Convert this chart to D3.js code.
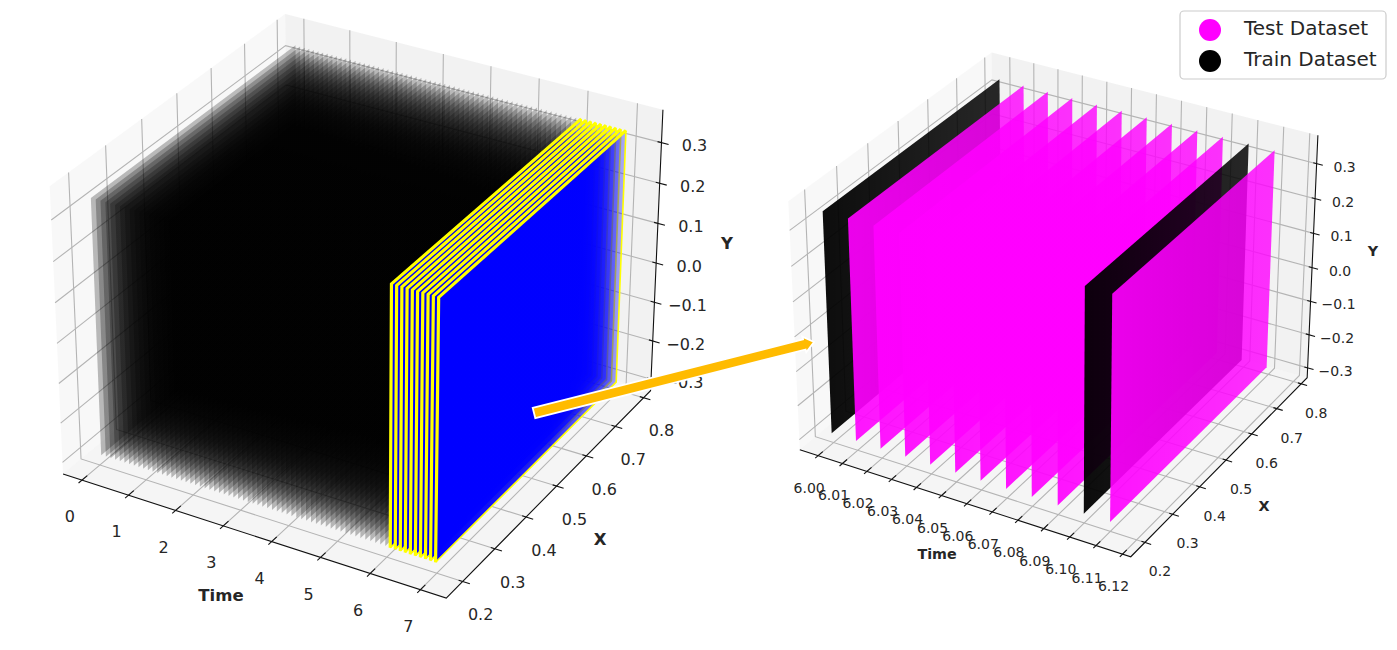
<!DOCTYPE html>
<html>
<head>
<meta charset="utf-8">
<script src="https://cdn.jsdelivr.net/npm/d3@7"></script>
<style>
html,body{margin:0;padding:0;background:#fff;}
svg{display:block;}
text{font-family:"DejaVu Sans",sans-serif;fill:#262626;}
</style>
</head>
<body>
<svg id="chart" width="1397" height="650"></svg>
<script>
// ---- data ----
const leftTimeTicks = [0,1,2,3,4,5,6,7];
const rightTimeTicks = [6.00,6.01,6.02,6.03,6.04,6.05,6.06,6.07,6.08,6.09,6.10,6.11,6.12];
const xTicks = [0.2,0.3,0.4,0.5,0.6,0.7,0.8];
const yTicks = [-0.3,-0.2,-0.1,0.0,0.1,0.2,0.3];
const leftTrainTimes = [0.2,0.3,0.4,0.5,0.6,0.7,0.8,0.9,1.0,1.1,1.2,1.3,1.4,1.5,1.6,1.7,1.8,1.9,2.0,2.1,2.2,2.3,2.4,2.5,2.6,2.7,2.8,2.9,3.0,3.1,3.2,3.3,3.4,3.5,3.6,3.7,3.8,3.9,4.0,4.1,4.2,4.3,4.4,4.5,4.6,4.7,4.8,4.9,5.0,5.1,5.2,5.3,5.4,5.5,5.6,5.7,5.8,5.9,6.0,6.1];
const leftTestTimes = [6.2,6.3,6.4,6.5,6.6,6.7,6.8,6.9,7.0,7.1];
const rightTrainTimes = [6.002,6.102];
const rightTestTimes = [6.012,6.022,6.032,6.042,6.052,6.062,6.072,6.082,6.092,6.112];
const xExtent = [0.18,0.77];
const yExtent = [-0.282,0.352];
const legendLabels = ["Test Dataset","Train Dataset"];
const legendColors = ["#ff00ff","#000000"];

// ---- axis limits and view ----
const xLim = [0.15,0.825];
const yLim = [-0.33,0.38];
const elev = 30*Math.PI/180, azim = -60*Math.PI/180, dist = 10;
const boxX = 1.143, boxZ = 0.857;

const svg = d3.select("#chart");
const defs = svg.append("defs");
function grad(id,color,stops){
  const g = defs.append("linearGradient").attr("id",id).attr("x1",0).attr("x2",1).attr("y1",0).attr("y2",0);
  stops.forEach(s=>g.append("stop").attr("offset",s[0]).attr("stop-color",color).attr("stop-opacity",s[1]));
}
grad("gBlackSoft","#000",[[0,0.26],[1,0.24]]);
grad("gBlue","#0000ff",[[0,1],[0.6,0.85],[1,0.3]]);
grad("gBlackSolid","#000",[[0,0.95],[1,0.84]]);
grad("gMagenta","#ff00ff",[[0,0.92],[1,0.8]]);

// mplot3d style perspective camera
const n = [Math.cos(elev)*Math.cos(azim),Math.cos(elev)*Math.sin(azim),Math.sin(elev)];
const nu = Math.hypot(n[1],n[0]);
const camU = [-n[1]/nu,n[0]/nu,0];
const camV = [n[1]*camU[2]-n[2]*camU[1],n[2]*camU[0]-n[0]*camU[2],n[0]*camU[1]-n[1]*camU[0]];
const dot = (a,b)=>a[0]*b[0]+a[1]*b[1]+a[2]*b[2];

function panel(o){
  const tS = d3.scaleLinear().domain(o.tLim).range([0,1]);
  const xS = d3.scaleLinear().domain(xLim).range([0,1]);
  const yS = d3.scaleLinear().domain(yLim).range([0,1]);
  const sxS = d3.scaleLinear().domain([0,1]).range([o.tx,o.tx+o.sx]);
  const syS = d3.scaleLinear().domain([0,1]).range([o.ty,o.ty-o.sy]);
  const unit = (u,v,w)=>{
    const p=[(u-.5)*boxX,(v-.5)*boxX,(w-.5)*boxZ];
    const d=dist-dot(n,p);
    return [sxS(dot(camU,p)/d),syS(dot(camV,p)/d)];
  };
  const proj = (t,x,y)=>unit(tS(t),xS(x),yS(y));
  const g = svg.append("g");
  const seg = pts=>"M"+pts.map(p=>p[0].toFixed(2)+","+p[1].toFixed(2)).join("L");
  const poly = pts=>seg(pts)+"Z";

  // panes
  g.append("path").attr("d",poly([unit(0,0,0),unit(0,1,0),unit(0,1,1),unit(0,0,1)])).attr("fill","rgb(242,242,242)").attr("fill-opacity",.5);
  g.append("path").attr("d",poly([unit(0,1,0),unit(1,1,0),unit(1,1,1),unit(0,1,1)])).attr("fill","rgb(230,230,230)").attr("fill-opacity",.5);
  g.append("path").attr("d",poly([unit(0,0,0),unit(1,0,0),unit(1,1,0),unit(0,1,0)])).attr("fill","rgb(236,236,236)").attr("fill-opacity",.5);

  // grid
  const gs = g.append("g").attr("fill","none").attr("stroke","#b4b4b4").attr("stroke-width",1.1);
  gs.selectAll(".gt").data(o.tTicks).join("path").attr("class","gt").attr("d",t=>{const u=tS(t);return seg([unit(u,0,0),unit(u,1,0),unit(u,1,1)]);});
  gs.selectAll(".gx").data(xTicks).join("path").attr("class","gx").attr("d",x=>{const v=xS(x);return seg([unit(1,v,0),unit(0,v,0),unit(0,v,1)]);});
  gs.selectAll(".gy").data(yTicks).join("path").attr("class","gy").attr("d",y=>{const w=yS(y);return seg([unit(1,1,w),unit(0,1,w),unit(0,0,w)]);});

  // axis lines
  const ax = g.append("g").attr("fill","none").attr("stroke","#111").attr("stroke-width",1.1);
  ax.append("path").attr("d",seg([unit(0,0,0),unit(1,0,0),unit(1,1,0),unit(1,1,1)]));
  // ticks
  ax.selectAll(".tt").data(o.tTicks).join("path").attr("class","tt").attr("d",t=>{const u=tS(t);return seg([unit(u,-.014,0),unit(u,.022,0)]);});
  ax.selectAll(".tx").data(xTicks).join("path").attr("class","tx").attr("d",x=>{const v=xS(x);return seg([unit(.99,v,0),unit(1.018,v,0)]);});
  ax.selectAll(".ty").data(yTicks).join("path").attr("class","ty").attr("d",y=>{const w=yS(y);return seg([unit(.99,1,w),unit(1.018,1,w)]);});

  // tick labels
  const lab = g.append("g").attr("text-anchor","middle").attr("font-size",o.fs);
  lab.selectAll(".lt").data(o.tTicks).join("text").attr("class","lt").text(o.tFmt)
    .attr("x",t=>proj(t,xLim[0],yLim[0])[0]+o.tOff[0]).attr("y",t=>proj(t,xLim[0],yLim[0])[1]+o.tOff[1]+o.fs*.36);
  lab.selectAll(".lx").data(xTicks).join("text").attr("class","lx").text(d3.format(".1f"))
    .attr("x",x=>proj(o.tLim[1],x,yLim[0])[0]+o.xOff[0]).attr("y",x=>proj(o.tLim[1],x,yLim[0])[1]+o.xOff[1]+o.fs*.36);
  lab.selectAll(".ly").data(yTicks).join("text").attr("class","ly").text(y=>d3.format(".1f")(y).replace("-","\u2212"))
    .attr("x",y=>proj(o.tLim[1],xLim[1],y)[0]+o.yOff[0]).attr("y",y=>proj(o.tLim[1],xLim[1],y)[1]+o.yOff[1]+o.fs*.36);

  // axis titles
  const ttl = g.append("g").attr("text-anchor","middle").attr("font-weight","bold").attr("font-size",o.tfs);
  ttl.selectAll("text").data(o.titles).join("text").text(d=>d[0]).attr("x",d=>d[1]).attr("y",d=>d[2]+o.tfs*.36);

  // planes of points, far to near
  const planes = o.train.map(t=>({t,fill:o.trainFill,edge:null}))
    .concat(o.test.map(t=>({t,fill:o.testFill,edge:o.testEdge})))
    .sort((a,b)=>a.t-b.t);
  const corners = p=>({
    nb:proj(p.t,xExtent[0],yExtent[0]),fb:proj(p.t,xExtent[1],yExtent[0]),
    ft:proj(p.t,xExtent[1],yExtent[1]),nt:proj(p.t,xExtent[0],yExtent[1])
  });
  const pl = g.append("g").selectAll("g").data(planes).join("g");
  pl.append("path").attr("d",p=>{const c=corners(p);return poly([c.nb,c.fb,c.ft,c.nt]);}).attr("fill",p=>p.fill);
  const edged = pl.filter(p=>p.edge);
  edged.append("path").attr("d",p=>{const c=corners(p);return seg([c.ft,c.fb,c.nb]);})
    .attr("fill","none").attr("stroke",p=>p.edge).attr("stroke-width",1.6);
  edged.append("path").attr("d",p=>{const c=corners(p);return seg([c.nb,c.nt,c.ft]);})
    .attr("fill","none").attr("stroke",p=>p.edge).attr("stroke-width",3.2);
}

panel({
  tLim:[-0.41,7.51],tTicks:leftTimeTicks,tFmt:d3.format("d"),
  tx:362,ty:292.5,sx:3842,sy:3828,fs:16,tfs:16.5,
  tOff:[-12,36.5],xOff:[18,33],yOff:[33,3],
  titles:[["Time",221,595],["X",600,539],["Y",727,243]],
  train:leftTrainTimes,test:leftTestTimes,
  trainFill:"url(#gBlackSoft)",testFill:"url(#gBlue)",testEdge:"#ffff00"
});
panel({
  tLim:[5.9924,6.1231],tTicks:rightTimeTicks,tFmt:d3.format(".2f"),
  tx:1058,ty:293,sx:3318,sy:3304,fs:14,tfs:14.3,
  tOff:[-9,32],xOff:[15,29],yOff:[28,3],
  titles:[["Time",937,554],["X",1264,506],["Y",1373,251]],
  train:rightTrainTimes,test:rightTestTimes,
  trainFill:"url(#gBlackSolid)",testFill:"url(#gMagenta)",testEdge:null
});

// connecting arrow
const tail=[534,413], tip=[814,342];
const dx=tip[0]-tail[0], dy=tip[1]-tail[1], L=Math.hypot(dx,dy);
const ex=dx/L, ey=dy/L, nx=-ey, ny=ex, hw=5.2, hl=10, hh=8;
const at=(a,b)=>[tail[0]+ex*a+nx*b,tail[1]+ey*a+ny*b];
svg.append("path")
  .attr("d","M"+[at(0,-hw),at(L-hl,-hw),at(L-hl,-hh),at(L,0),at(L-hl,hh),at(L-hl,hw),at(0,hw)].map(p=>p.join(",")).join("L")+"Z")
  .attr("fill","#ffbb00").attr("stroke","#fff").attr("stroke-width",1.8);

// legend
const lg = svg.append("g");
lg.append("rect").attr("x",1180).attr("y",11).attr("width",206).attr("height",68).attr("rx",4)
  .attr("fill","#fff").attr("fill-opacity",.8).attr("stroke","#ccc").attr("stroke-width",1.2);
const row = d3.scalePoint().domain(legendLabels).range([30,61]);
lg.selectAll("circle").data(legendLabels).join("circle").attr("cx",1210).attr("cy",d=>row(d)).attr("r",11)
  .attr("fill",(d,i)=>legendColors[i]);
lg.selectAll("text").data(legendLabels).join("text").text(d=>d).attr("x",1244).attr("y",d=>row(d)+5).attr("font-size",20);
</script>
</body>
</html>
